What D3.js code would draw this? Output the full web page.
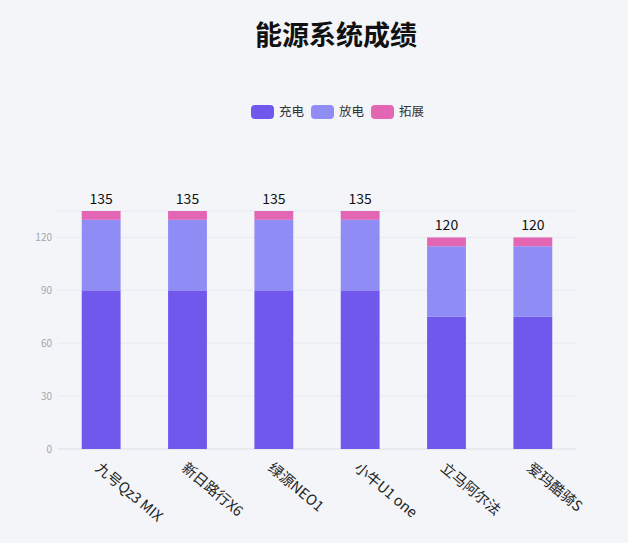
<!DOCTYPE html>
<html>
<head>
<meta charset="utf-8">
<script src="https://cdn.jsdelivr.net/npm/d3@7"></script>
<style>
  html, body { margin: 0; padding: 0; background: #f3f5f9; }
  svg { display: block; font-family: "Noto Sans CJK SC", "Noto Sans", sans-serif; }
</style>
</head>
<body>
<svg id="chart"></svg>
<script>
const categories = ['九号Qz3 MIX', '新日路行X6', '绿源NEO1', '小牛U1 one', '立马阿尔法', '爱玛酷骑S'];
const seriesNames = ['充电', '放电', '拓展'];
const charge = [90, 90, 90, 90, 75, 75];
const discharge = [40, 40, 40, 40, 40, 40];
const extend = [5, 5, 5, 5, 5, 5];
const yTicks = [0, 30, 60, 90, 120];
const colors = ['#7158ec', '#8f8cf6', '#e266b4'];

const W = 628, H = 543;
const margin = { top: 211, right: 52, bottom: 94, left: 58 };
const width = W - margin.left - margin.right;
const height = H - margin.top - margin.bottom;

const rows = categories.map((c, i) => ({ name: c, '充电': charge[i], '放电': discharge[i], '拓展': extend[i] }));
const stacked = d3.stack().keys(seriesNames)(rows);
const totals = rows.map(r => r['充电'] + r['放电'] + r['拓展']);

const svg = d3.select('#chart').attr('width', W).attr('height', H);

svg.append('text')
  .attr('x', 336).attr('y', 45)
  .attr('text-anchor', 'middle')
  .style('font-size', '27px').style('font-weight', 'bold').style('fill', '#111')
  .text('能源系统成绩');

const g = svg.append('g').attr('transform', `translate(${margin.left}, ${margin.top})`);

const x = d3.scaleBand().domain(categories).range([0, width]).padding(0);
const y = d3.scaleLinear().domain([0, d3.max(totals)]).range([height, 0]);

// grid
g.selectAll('.grid')
  .data(yTicks.concat([d3.max(totals)]))
  .enter().append('line')
  .attr('x1', 0).attr('x2', width)
  .attr('y1', d => y(d)).attr('y2', d => y(d))
  .style('stroke', d => d === 0 ? '#dcdfe6' : '#e8eaf0')
  .style('stroke-width', 1);

g.selectAll('.ylab')
  .data(yTicks)
  .enter().append('text')
  .attr('x', -6).attr('y', d => y(d))
  .attr('dy', '0.35em')
  .attr('text-anchor', 'end')
  .style('font-size', '10px').style('fill', '#a3a6ad')
  .text(d => d);

const barW = x.bandwidth() * 0.45;

g.selectAll('.layer')
  .data(stacked)
  .enter().append('g')
  .style('fill', (d, i) => colors[i])
  .selectAll('rect')
  .data(d => d)
  .enter().append('rect')
  .attr('x', d => x(d.data.name) + (x.bandwidth() - barW) / 2)
  .attr('y', d => y(d[1]))
  .attr('width', barW)
  .attr('height', d => y(d[0]) - y(d[1]));

g.selectAll('.total')
  .data(rows)
  .enter().append('text')
  .attr('x', (d, i) => x(d.name) + x.bandwidth() / 2)
  .attr('y', (d, i) => y(totals[i]) - 7)
  .attr('text-anchor', 'middle')
  .style('font-size', '14px').style('fill', '#111')
  .text((d, i) => totals[i]);

g.selectAll('.xlab')
  .data(categories)
  .enter().append('text')
  .attr('transform', d => `translate(${x(d) + x.bandwidth() / 2 + 2}, ${height + 10}) rotate(40)`)
  .attr('dominant-baseline', 'hanging')
  .style('font-size', '14.5px').style('fill', '#222')
  .text(d => d);

// legend
const legendX = [251, 311, 371];
const legend = svg.selectAll('.legend')
  .data(seriesNames)
  .enter().append('g')
  .attr('transform', (d, i) => `translate(${legendX[i]}, 105)`);

legend.append('rect')
  .attr('width', 23).attr('height', 14)
  .attr('rx', 4).attr('ry', 4)
  .style('fill', (d, i) => colors[i]);

legend.append('text')
  .attr('x', 28).attr('y', 7).attr('dy', '0.35em')
  .style('font-size', '12.5px').style('fill', '#333')
  .text(d => d);
</script>
</body>
</html>
